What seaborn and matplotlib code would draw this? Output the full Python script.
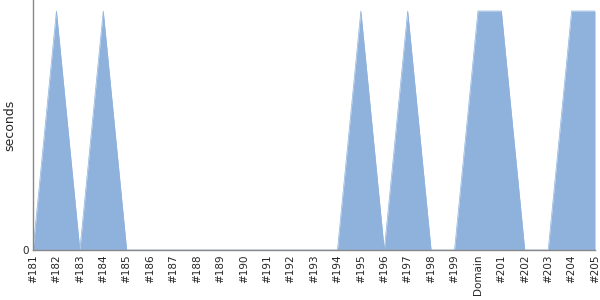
import matplotlib
matplotlib.use("Agg")
import matplotlib.pyplot as plt
import seaborn as sns
import numpy as np
import pandas as pd

labels = ["#181", "#182", "#183", "#184", "#185", "#186", "#187", "#188", "#189",
          "#190", "#191", "#192", "#193", "#194", "#195", "#196", "#197", "#198",
          "#199", "Domain", "#201", "#202", "#203", "#204", "#205"]
seconds = [0, 1, 0, 1, 0, 0, 0, 0, 0, 0, 0, 0, 0, 0, 1, 0, 1, 0, 0, 1, 1, 0, 0, 1, 1]

sns.set_theme(style="white")
plt.rcParams['font.family'] = ['DejaVu Sans']

df = pd.DataFrame({"build": labels, "seconds": seconds, "pos": np.arange(len(labels))})

fig = plt.figure(figsize=(6, 3), dpi=100)
ax = fig.add_axes([0.055, 0.1667, 0.9367, 0.8333])
color = "#8fb2dc"
sns.lineplot(data=df, x="pos", y="seconds", ax=ax, color=color, linewidth=0.5)
ax.fill_between(df["pos"], df["seconds"], color=color, alpha=1.0, linewidth=0)

ax.set_xlim(0, len(labels) - 1)
ax.set_ylim(0, 1.046)
ax.set_xticks(df["pos"])
ax.set_xticklabels(labels, rotation=90, fontsize=7.5)
ax.set_yticks([0])
ax.set_yticklabels(["0"], fontsize=7.5)
ax.set_xlabel("")
ax.set_ylabel("seconds", fontsize=9)
ax.tick_params(axis="both", length=0, pad=3)
for s in ["top", "right"]:
    ax.spines[s].set_visible(False)
for s in ["left", "bottom"]:
    ax.spines[s].set_color("#888888")
    ax.spines[s].set_linewidth(1)

fig.savefig("out.png", dpi=100)
